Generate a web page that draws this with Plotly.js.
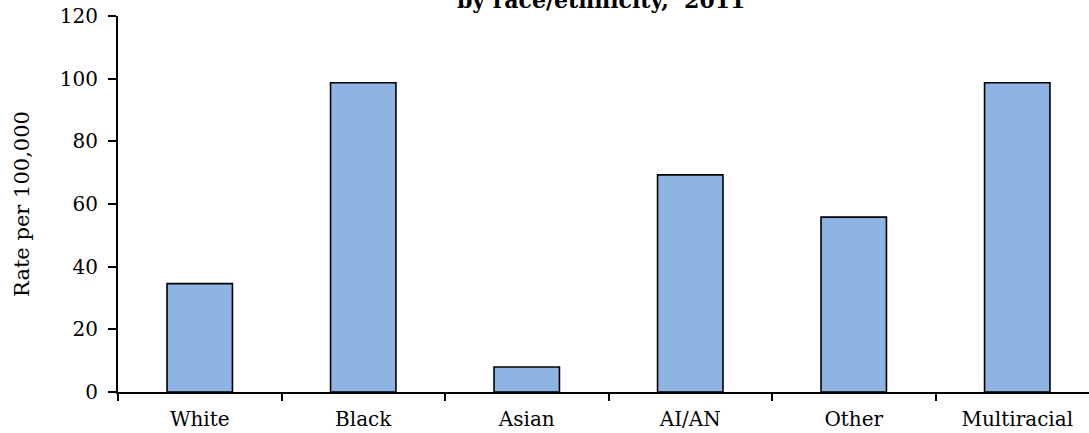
<!DOCTYPE html>
<html>
<head>
<meta charset="utf-8">
<script src="https://cdn.plot.ly/plotly-3.0.1.min.js"></script>
<style>
html, body { margin: 0; padding: 0; overflow: hidden; background: #ffffff; }
#chart { width: 1100px; height: 433px; }
</style>
</head>
<body>
<div id="chart"></div>
<script>
const categories = ["White", "Black", "Asian", "AI/AN", "Other", "Multiracial"];
const rates = [34.6, 98.7, 8.0, 69.3, 55.8, 98.7];
const yTickValues = [0, 20, 40, 60, 80, 100, 120];
const chartTitle = "by race/ethnicity,  2011";
const yTitle = "Rate per 100,000";

const trace = {
  type: "bar",
  x: categories,
  y: rates,
  marker: { color: "#8EB4E3", line: { color: "#000000", width: 1.6 } },
  hoverinfo: "x+y"
};

const layout = {
  width: 1100,
  height: 433,
  margin: { l: 118, r: 1, t: 16, b: 41 },
  paper_bgcolor: "#ffffff",
  plot_bgcolor: "#ffffff",
  showlegend: false,
  bargap: 0.6,
  font: { family: "DejaVu Serif, serif", color: "#000000" },
  title: {
    text: "<b>" + chartTitle + "</b>",
    font: { family: "DejaVu Serif, serif", size: 22, color: "#000000" },
    xref: "container", x: 0.5465, xanchor: "center",
    yref: "container", y: 1, yanchor: "middle"
  },
  xaxis: {
    type: "category",
    showline: true, linecolor: "#000000", linewidth: 2,
    ticks: "outside", tickson: "boundaries", ticklen: 7, tickwidth: 2, tickcolor: "#000000",
    ticklabelstandoff: 8,
    tickfont: { family: "DejaVu Serif, serif", size: 20, color: "#000000" },
    showgrid: false, zeroline: false, fixedrange: true
  },
  yaxis: {
    range: [0, 120],
    tickvals: yTickValues,
    ticktext: yTickValues.map(String),
    showline: true, linecolor: "#000000", linewidth: 2,
    ticks: "outside", ticklen: 8, tickwidth: 2, tickcolor: "#000000",
    ticklabelstandoff: 6,
    tickfont: { family: "DejaVu Serif, serif", size: 20, color: "#000000" },
    showgrid: false, zeroline: false, fixedrange: true,
    title: { text: yTitle, font: { family: "DejaVu Serif, serif", size: 21, color: "#000000" }, standoff: 24 }
  }
};

Plotly.newPlot("chart", [trace], layout, { displayModeBar: false, staticPlot: true });
</script>
</body>
</html>
